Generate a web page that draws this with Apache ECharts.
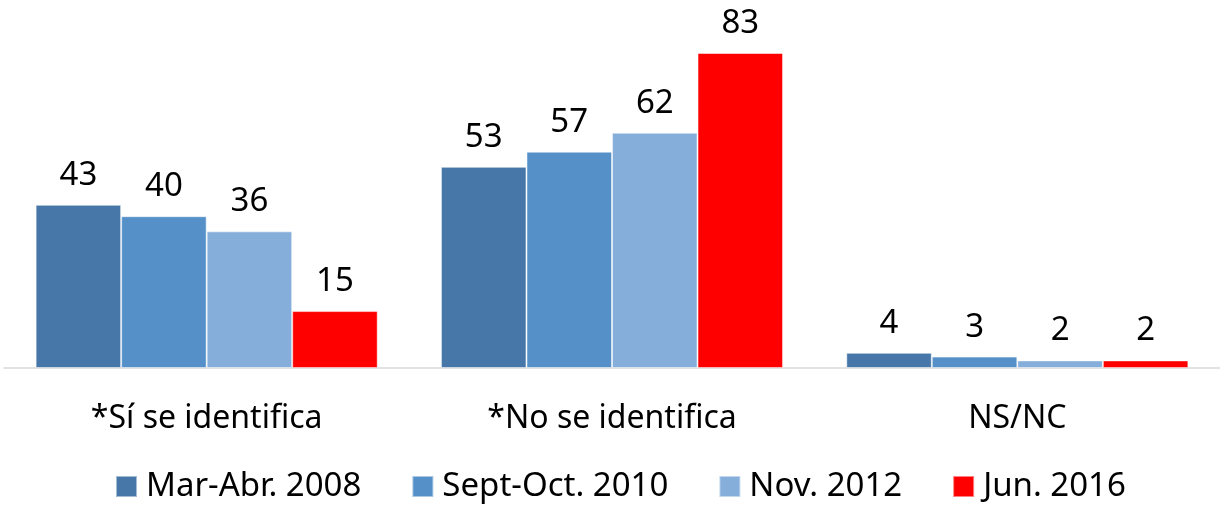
<!DOCTYPE html>
<html><head><meta charset="utf-8">
<script src="https://cdn.jsdelivr.net/npm/echarts@6/dist/echarts.min.js"></script>
<style>html,body{margin:0;padding:0;background:#fff}#c{width:1220px;height:505px}</style>
</head><body><div id="c"></div>
<script>
const categories = ['*Sí se identifica', '*No se identifica', 'NS/NC'];
const seriesNames = ['Mar-Abr. 2008', 'Sept-Oct. 2010', 'Nov. 2012', 'Jun. 2016'];
const mar2008 = [43, 53, 4];
const sep2010 = [40, 57, 3];
const nov2012 = [36, 62, 2];
const jun2016 = [15, 83, 2];
const colors = ['#4677a8', '#5591c8', '#85aedb', '#ff0000'];

const FONT = 'Noto Sans';
const chart = echarts.init(document.getElementById('c'));
const values = [mar2008, sep2010, nov2012, jun2016];
chart.setOption({
  animation: false,
  textStyle: { fontFamily: FONT },
  grid: { left: 4, right: -2, top: 53, bottom: 137, containLabel: false },
  legend: {
    data: seriesNames, top: 465, left: 110, icon: 'rect',
    itemWidth: 21, itemHeight: 21, itemGap: 50,
    textStyle: { fontFamily: FONT, fontSize: 33, color: '#000', padding: [0, 0, 0, 4] }
  },
  xAxis: {
    type: 'category', data: categories,
    axisLine: { lineStyle: { color: '#d9d9d9', width: 1.5 } },
    axisTick: { show: false },
    axisLabel: { fontFamily: FONT, fontSize: 32, color: '#000', margin: 35 }
  },
  yAxis: { type: 'value', min: 0, max: 83, show: false, splitLine: { show: false } },
  series: values.map((v, i) => ({
    name: seriesNames[i], type: 'bar', data: v,
    barGap: '0%', barCategoryGap: '15.6%',
    itemStyle: { color: colors[i], borderColor: 'rgba(255,255,255,0.5)', borderWidth: 1 },
    label: { show: true, position: 'top', distance: 13, fontFamily: FONT, fontSize: 33, color: '#000' }
  }))
});
</script></body></html>
